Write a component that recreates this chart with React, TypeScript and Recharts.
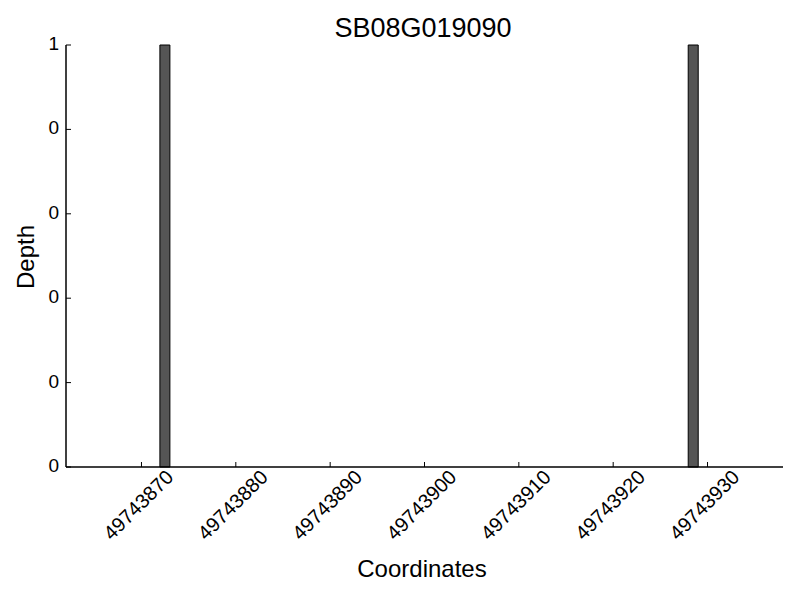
import { Bar, BarChart, XAxis, YAxis } from "recharts";

const coordinates = [49743872.5, 49743928.5];
const depths = [1, 1];
const xTicks = [49743870, 49743880, 49743890, 49743900, 49743910, 49743920, 49743930];
const yTicks = [0, 0.2, 0.4, 0.6, 0.8, 1];

const data = coordinates.map((c, i) => ({ coord: c, depth: depths[i] }));

const font = "'Liberation Sans', Arial, sans-serif";

const XTick = (props: any) => {
  const { x, y, payload } = props;
  const cy = y + 39;
  return (
    <g>
      <line x1={x} y1={y} x2={x} y2={y - 5} stroke="#000" strokeWidth={1} />
      <text
        x={x - 2}
        y={cy}
        textAnchor="middle"
        dominantBaseline="middle"
        transform={`rotate(-45, ${x - 2}, ${cy})`}
        style={{ fontSize: 20, fontFamily: font }}
        fill="#000"
      >
        {payload.value}
      </text>
    </g>
  );
};

const YTick = (props: any) => {
  const { x, y, payload } = props;
  return (
    <g>
      <line x1={x} y1={y} x2={x + 5} y2={y} stroke="#000" strokeWidth={1} />
      <text
        x={x - 7}
        y={y}
        textAnchor="end"
        dominantBaseline="middle"
        style={{ fontSize: 19, fontFamily: font }}
        fill="#000"
      >
        {Math.floor(payload.value + 1e-9)}
      </text>
    </g>
  );
};

export default function App() {
  return (
    <div style={{ position: "absolute", left: 0, top: 0, width: 800, height: 600, background: "#fff" }}>
      <svg width={800} height={600} style={{ position: "absolute", left: 0, top: 0 }}>
        <text x={423} y={37} textAnchor="middle" fontSize={27} fontFamily={font} fill="#000">
          SB08G019090
        </text>
        <text x={422} y={577} textAnchor="middle" fontSize={24} fontFamily={font} fill="#000">
          Coordinates
        </text>
        <text
          x={34}
          y={257}
          textAnchor="middle"
          fontSize={24}
          fontFamily={font}
          fill="#000"
          transform="rotate(-90, 34, 257)"
        >
          Depth
        </text>
      </svg>
      <div style={{ position: "absolute", left: 0, top: 0 }}>
        <BarChart
          width={800}
          height={600}
          data={data}
          margin={{ top: 45, right: 17, bottom: 132, left: 65 }}
        >
          <XAxis
            dataKey="coord"
            type="number"
            domain={[49743862, 49743938]}
            ticks={xTicks}
            allowDataOverflow
            height={1}
            tickSize={0}
            tickMargin={0}
            tickLine={false}
            axisLine={{ stroke: "#000", strokeWidth: 1.5 }}
            tick={<XTick />}
            interval={0}
          />
          <YAxis
            type="number"
            domain={[0, 1]}
            ticks={yTicks}
            width={1}
            tickSize={0}
            tickMargin={0}
            tickLine={false}
            axisLine={{ stroke: "#000", strokeWidth: 1.5 }}
            tick={<YTick />}
            interval={0}
          />
          <Bar
            dataKey="depth"
            fill="#555555"
            stroke="#000"
            strokeWidth={1}
            barSize={10}
            isAnimationActive={false}
          />
        </BarChart>
      </div>
    </div>
  );
}
